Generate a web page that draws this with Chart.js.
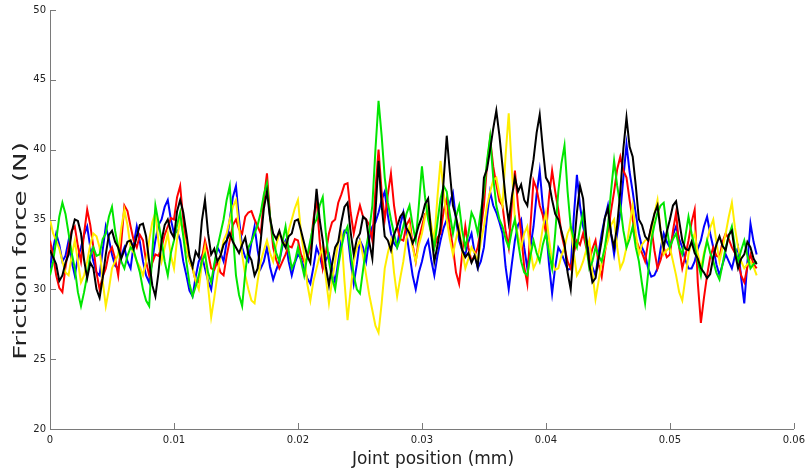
<!DOCTYPE html>
<html>
<head>
<meta charset="utf-8">
<script src="https://cdn.jsdelivr.net/npm/chart.js@4/dist/chart.umd.min.js"></script>
<style>
  html, body { margin: 0; padding: 0; background: #ffffff; }
  #wrap { width: 810px; height: 471px; }
</style>
</head>
<body>
<div id="wrap"><canvas id="c" width="810" height="471"></canvas></div>
<script>
// ---- data ----
const xStep = 0.00025; // sampling step of joint position (mm)
const xTicks = [0, 0.01, 0.02, 0.03, 0.04, 0.05, 0.06];
const yTicks = [20, 25, 30, 35, 40, 45, 50];
const xTitle = "Joint position (mm)";
const yTitle = "Friction force (N)";

const blue = [
  31.5,32.9,34.0,33.2,32.0,32.4,33.5,32.0,31.0,32.3,
  33.0,33.9,34.5,33.0,32.0,31.2,31.0,32.8,34.5,33.6,
  32.5,31.7,31.5,32.4,33.0,32.0,31.5,33.2,34.5,33.4,
  32.0,31.0,30.5,32.1,33.5,34.6,35.0,35.9,36.4,35.0,
  34.0,34.2,33.5,32.0,31.0,29.9,29.5,30.9,32.0,32.4,
  31.5,30.6,30.0,31.6,33.0,32.6,32.0,33.4,35.0,36.6,
  37.4,35.0,33.0,32.3,32.0,33.4,34.5,32.8,31.5,32.0,
  33.0,31.6,30.7,31.4,32.0,33.1,33.5,32.0,31.0,31.9,
  32.5,32.2,31.5,30.8,30.4,31.6,33.0,32.4,31.5,32.1,
  32.5,31.4,30.5,32.0,33.5,34.2,34.0,32.0,30.4,31.8,
  33.5,33.0,32.0,33.6,34.5,34.8,35.5,36.4,37.0,35.3,
  34.0,33.3,33.0,34.6,35.5,34.0,32.5,31.0,30.0,31.2,
  32.0,33.0,33.5,32.1,31.0,32.4,33.5,34.4,35.0,36.2,
  36.9,35.0,33.5,32.8,32.5,33.4,34.0,32.6,31.5,32.0,
  33.0,35.2,37.0,36.0,35.5,34.8,34.0,31.6,30.0,31.8,
  33.5,34.6,35.0,33.0,31.5,33.0,34.5,36.8,38.5,36.0,
  34.5,31.8,29.7,31.6,33.0,32.6,32.0,31.4,31.5,35.2,
  38.2,36.0,34.5,33.6,32.5,31.6,31.0,32.6,34.0,35.1,
  36.0,34.0,32.5,34.0,35.5,38.0,40.4,38.4,37.0,35.4,
  34.0,33.0,32.5,31.5,30.9,31.0,31.5,32.9,34.0,33.4,
  33.0,33.9,34.5,33.6,33.0,32.1,31.5,31.5,32.0,32.9,
  33.5,34.5,35.2,34.0,33.0,31.8,31.0,31.8,32.5,32.0,
  31.5,32.4,33.0,30.8,29.0,31.9,34.7,33.4,32.5];

const red = [
  33.5,32.4,31.0,30.1,29.8,31.6,33.0,34.2,34.5,33.1,
  32.0,34.0,35.7,34.6,33.0,31.2,30.0,30.9,31.5,32.6,
  33.0,32.2,31.0,33.4,36.0,35.6,34.5,33.5,33.0,33.9,
  33.5,32.0,31.0,31.9,32.5,32.4,33.0,33.9,34.5,35.1,
  35.0,36.6,37.4,35.0,33.0,32.0,31.5,30.6,30.5,32.2,
  33.5,32.6,31.5,31.4,32.0,31.2,31.0,32.4,33.5,34.6,
  35.0,34.3,34.0,35.2,35.5,35.6,35.0,34.5,34.0,36.5,
  38.3,35.2,33.0,32.1,31.5,32.0,32.5,33.1,33.0,33.6,
  33.5,32.5,32.0,32.2,33.0,35.0,36.5,33.5,31.5,32.6,
  34.0,34.8,35.0,36.2,36.8,37.5,37.6,35.5,34.0,35.1,
  36.0,35.2,35.0,34.6,33.5,37.1,40.0,37.0,35.0,36.8,
  38.3,36.0,34.5,33.6,33.5,34.6,35.0,33.2,32.0,33.6,
  34.5,35.4,35.5,34.0,33.0,33.7,34.0,35.6,36.5,34.4,
  33.0,31.2,30.4,32.6,34.5,33.0,32.0,32.4,33.0,34.3,
  36.0,38.9,40.8,38.8,37.5,36.3,36.0,34.2,33.0,36.1,
  38.5,36.0,34.0,31.6,30.4,34.5,37.8,37.2,36.0,35.3,
  34.0,36.6,38.5,37.0,35.7,34.0,33.0,32.0,31.5,32.6,
  33.5,33.2,34.0,33.0,32.0,32.9,33.5,31.8,30.9,32.6,
  34.0,35.6,37.0,38.6,39.5,38.5,38.0,36.4,35.0,33.6,
  33.0,32.6,32.0,33.4,34.5,32.8,31.5,32.1,33.0,32.3,
  32.5,34.2,35.5,33.0,31.5,32.4,33.5,34.8,35.7,30.5,
  27.6,29.4,31.0,32.3,33.0,32.4,32.3,33.4,34.0,33.6,
  33.0,32.6,32.0,31.0,30.5,31.6,32.5,31.8,31.5];

const yellow = [
  35.0,34.0,33.5,32.9,32.0,31.2,31.0,32.4,33.5,32.0,
  30.5,31.0,32.0,33.2,34.0,33.8,33.0,30.6,28.8,30.0,
  31.5,32.0,32.5,34.4,35.7,34.6,33.0,32.6,32.0,31.6,
  31.0,32.0,33.5,34.8,35.5,33.4,32.0,33.0,34.0,32.4,
  31.5,33.6,35.0,34.0,33.0,32.0,31.5,30.6,30.0,31.8,
  33.0,30.2,28.0,29.4,31.0,32.4,33.5,34.0,35.0,35.9,
  36.4,34.4,32.5,31.0,30.0,29.2,29.0,30.6,32.0,32.8,
  33.5,32.6,32.0,33.2,34.0,33.6,33.0,34.2,35.0,35.8,
  36.4,34.0,32.5,30.4,29.2,30.6,31.5,32.4,33.0,30.8,
  29.0,30.6,32.0,33.4,34.0,30.6,27.8,30.0,32.0,33.0,
  33.5,32.4,31.0,29.6,28.5,27.4,26.9,29.0,31.5,32.6,
  33.5,31.2,29.5,30.8,32.0,33.6,34.5,33.0,32.0,33.2,
  34.0,35.2,36.0,34.6,33.5,36.6,39.2,37.0,35.0,33.6,
  32.5,33.6,34.5,32.8,31.5,32.2,33.0,32.6,32.0,33.4,
  34.5,36.0,37.0,37.8,38.0,36.8,36.0,39.6,42.6,38.6,
  35.0,33.8,33.0,34.0,34.5,32.8,31.5,32.0,33.0,34.4,
  35.5,33.6,32.0,31.4,31.5,32.4,33.0,34.0,34.5,32.6,
  31.0,31.4,32.0,32.8,33.5,31.2,29.3,30.6,32.0,32.8,
  33.5,34.6,35.0,33.0,31.5,32.0,33.0,34.6,36.0,34.0,
  32.5,33.2,33.5,33.6,34.0,35.4,36.4,34.2,32.5,32.8,
  33.0,32.0,31.0,29.8,29.2,30.8,32.5,33.4,34.0,32.6,
  31.5,32.6,33.5,34.4,35.0,33.4,32.0,33.0,34.0,35.2,
  36.2,34.4,33.0,32.0,31.5,31.8,32.0,31.6,31.0];

const green = [
  31.0,32.0,33.5,35.2,36.2,35.4,34.0,32.6,31.5,29.8,
  28.8,29.8,31.0,32.4,33.0,32.4,32.5,33.6,34.0,35.2,
  35.9,34.2,33.0,32.0,31.5,32.4,33.0,32.8,32.0,31.2,
  30.0,29.2,28.8,32.6,36.0,34.8,33.5,32.0,31.0,32.6,
  33.5,34.6,35.5,33.8,32.0,30.4,29.5,30.2,31.0,32.0,
  32.5,31.2,30.5,31.8,33.0,34.0,35.0,36.4,37.4,34.0,
  31.0,29.6,28.8,31.2,33.0,33.4,34.0,34.6,35.5,36.8,
  37.6,35.2,33.5,32.6,32.0,33.4,34.5,32.8,31.5,32.0,
  33.0,32.0,31.0,32.4,33.5,34.6,35.0,36.0,36.6,34.0,
  32.0,30.8,30.0,31.6,33.0,34.0,34.5,32.6,31.0,30.0,
  29.7,31.4,33.0,34.2,36.0,40.0,43.5,41.0,38.0,36.2,
  35.0,34.0,33.0,33.6,34.5,35.4,36.0,34.6,33.5,36.0,
  38.8,36.6,35.0,34.0,33.0,34.8,36.5,37.4,37.0,35.4,
  34.0,35.2,36.0,34.2,33.0,34.0,35.5,35.0,34.0,35.6,
  37.0,39.2,40.9,38.0,36.0,35.0,34.5,33.6,33.0,34.2,
  35.0,33.4,32.0,31.2,31.0,32.4,33.5,32.6,32.0,33.2,
  34.0,32.6,31.5,34.0,37.0,39.0,40.3,37.0,34.5,33.6,
  33.0,34.4,35.5,33.2,31.5,32.0,33.0,32.4,32.0,33.0,
  34.5,37.0,39.2,37.4,36.0,34.2,33.0,33.6,34.5,33.0,
  32.0,30.4,29.0,31.2,33.5,34.6,35.5,36.0,36.2,34.4,
  33.0,33.6,34.0,33.0,32.5,33.8,35.2,34.0,33.0,32.0,
  31.0,32.4,33.5,32.6,32.0,31.2,30.7,31.8,33.0,33.8,
  34.5,33.0,32.0,32.8,33.5,32.4,31.5,31.8,32.0];

const black = [
  32.8,32.3,31.8,30.6,31.0,31.9,32.5,34.1,35.0,34.9,
  34.0,32.1,30.8,31.9,31.5,30.0,29.4,30.8,32.5,33.9,
  34.2,33.4,33.0,32.2,32.8,33.4,33.5,32.9,33.8,34.6,
  34.7,33.8,32.0,30.3,29.5,31.2,33.5,34.6,35.0,34.1,
  33.7,35.6,36.4,35.5,34.0,32.4,31.6,32.7,32.3,34.9,
  36.4,34.0,32.5,32.9,32.0,32.4,33.2,33.5,34.0,33.4,
  33.0,32.6,33.2,33.7,32.5,32.1,31.0,31.5,33.5,35.8,
  37.0,35.1,34.0,33.6,34.2,33.4,33.0,33.8,34.0,34.9,
  35.0,34.2,33.3,32.4,31.9,34.5,37.2,35.0,33.5,31.6,
  30.3,31.8,33.0,33.4,34.8,35.9,36.2,34.1,32.5,33.6,
  34.0,35.2,35.0,33.4,32.2,35.5,39.2,36.0,33.8,33.5,
  32.8,33.9,34.5,35.2,35.5,34.4,34.0,33.3,33.8,34.6,
  35.2,36.1,36.5,34.0,32.0,33.1,34.5,37.8,41.0,38.4,
  36.0,35.2,34.0,32.8,32.3,32.6,31.9,32.4,31.6,34.5,
  38.0,38.6,40.0,41.5,42.8,41.0,38.8,36.5,34.8,36.6,
  38.0,37.0,37.5,36.4,36.0,37.9,39.3,41.2,42.5,40.1,
  38.0,37.6,36.4,35.4,35.0,34.2,33.3,31.2,30.0,32.9,
  35.5,37.4,36.5,33.8,31.8,30.5,30.8,32.2,33.5,35.1,
  35.8,34.0,33.0,34.6,37.0,40.1,42.3,40.2,39.5,37.4,
  35.0,34.6,33.8,33.5,34.5,35.4,36.0,34.2,33.0,34.1,
  35.0,36.0,36.3,34.9,33.5,32.9,32.8,33.4,32.6,32.2,
  31.5,31.2,30.8,31.1,32.3,33.2,33.8,33.1,32.8,33.9,
  34.2,32.6,31.5,32.2,32.5,33.4,33.0,32.2,31.8];

// ---- build datasets ----
function toPoints(arr) {
  return arr.map((v, i) => ({ x: +(i * xStep).toFixed(5), y: v }));
}
const seriesDefs = [
  { name: "black",  values: black,  color: "#000000", order: 0 },
  { name: "green",  values: green,  color: "#00e600", order: 1 },
  { name: "yellow", values: yellow, color: "#ffee00", order: 2 },
  { name: "red",    values: red,    color: "#ff0000", order: 3 },
  { name: "blue",   values: blue,   color: "#0000ff", order: 4 }
];
const datasets = seriesDefs.map(s => ({
  label: s.name,
  data: toPoints(s.values),
  borderColor: s.color,
  backgroundColor: s.color,
  borderWidth: 2,
  pointRadius: 0,
  tension: 0,
  fill: false,
  order: s.order
}));

const AXIS_COLOR = "#7a7a7a";
const TEXT_COLOR = "#222222";

// inward ticks and axis titles
const decor = {
  id: "decor",
  afterDraw(chart) {
    const ctx = chart.ctx;
    const xs = chart.scales.x, ys = chart.scales.y;
    const area = chart.chartArea;
    ctx.save();
    ctx.strokeStyle = AXIS_COLOR;
    ctx.lineWidth = 1;
    ctx.beginPath();
    xTicks.forEach(t => {
      const px = Math.round(xs.getPixelForValue(t)) + 0.5;
      ctx.moveTo(px, area.bottom);
      ctx.lineTo(px, area.bottom - 6);
    });
    yTicks.forEach(t => {
      const py = Math.round(ys.getPixelForValue(t)) + 0.5;
      ctx.moveTo(area.left, py);
      ctx.lineTo(area.left + 6, py);
    });
    ctx.stroke();

    ctx.fillStyle = TEXT_COLOR;
    // x title
    ctx.font = "17px 'DejaVu Sans'";
    ctx.textAlign = "center";
    ctx.textBaseline = "alphabetic";
    ctx.fillText(xTitle, 433, 464);
    // y title
    ctx.translate(26, 251);
    ctx.rotate(-Math.PI / 2);
    ctx.scale(1.45, 1);
    ctx.font = "18px 'DejaVu Sans'";
    ctx.textAlign = "center";
    ctx.textBaseline = "alphabetic";
    ctx.fillText(yTitle, 0, 0);
    ctx.restore();
  }
};

new Chart(document.getElementById("c"), {
  type: "line",
  data: { datasets },
  options: {
    responsive: false,
    animation: false,
    devicePixelRatio: 1,
    layout: { padding: { top: 9, right: 14, left: 0, bottom: 0 } },
    plugins: {
      legend: { display: false },
      tooltip: { enabled: false }
    },
    scales: {
      x: {
        type: "linear",
        min: 0,
        max: 0.06,
        afterFit(scale) { scale.height = 42; },
        afterBuildTicks(scale) { scale.ticks = xTicks.map(v => ({ value: v })); },
        ticks: {
          color: TEXT_COLOR,
          font: { family: "'DejaVu Sans'", size: 10 },
          padding: 5,
          maxRotation: 0,
          callback: v => String(+v.toFixed(2))
        },
        grid: { display: true, drawOnChartArea: false, drawTicks: false },
        border: { display: true, color: AXIS_COLOR, width: 1 }
      },
      y: {
        type: "linear",
        min: 20,
        max: 50,
        afterFit(scale) { scale.width = 50; },
        afterBuildTicks(scale) { scale.ticks = yTicks.map(v => ({ value: v })); },
        ticks: {
          color: TEXT_COLOR,
          font: { family: "'DejaVu Sans'", size: 10 },
          padding: 4,
          callback: v => String(v)
        },
        grid: { display: true, drawOnChartArea: false, drawTicks: false },
        border: { display: true, color: AXIS_COLOR, width: 1 }
      }
    }
  },
  plugins: [decor]
});
</script>
</body>
</html>
